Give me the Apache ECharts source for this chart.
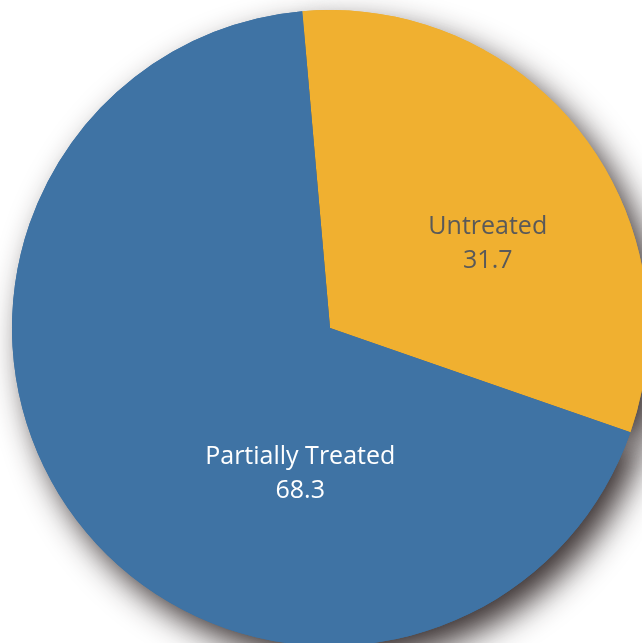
<!DOCTYPE html>
<html>
<head>
<meta charset="utf-8">
<script src="https://cdn.jsdelivr.net/npm/echarts@6/dist/echarts.min.js"></script>
<style>html,body{margin:0;padding:0;background:#fff}#c{width:642px;height:643px}</style>
</head>
<body>
<div id="c"></div>
<script>
const categories = ['Untreated', 'Partially Treated'];
const values = [31.7, 68.3];
const colors = ['#f0b030', '#3f73a4'];
const labelColors = ['#595959', '#ffffff'];
const labelOffsets = [[30, 15], [98, 46]];

const data = categories.map((name, i) => ({
  name, value: values[i],
  itemStyle: { color: colors[i] },
  label: { color: labelColors[i], offset: labelOffsets[i] }
}));

const chart = echarts.init(document.getElementById('c'));
chart.setOption({
  animation: false,
  series: [
    {
      type: 'pie', silent: true, z: 1,
      center: [330, 328], radius: 318, startAngle: 95, clockwise: true,
      label: { show: false }, labelLine: { show: false },
      itemStyle: { shadowBlur: 32, shadowOffsetX: 12, shadowOffsetY: 15, shadowColor: 'rgba(40,30,30,0.92)', borderWidth: 0 },
      data: categories.map((name, i) => ({ name, value: values[i], itemStyle: { color: colors[i] } }))
    },
    {
      type: 'pie', z: 2,
      center: [330, 328], radius: 318, startAngle: 95, clockwise: true,
      itemStyle: { borderWidth: 0 },
      label: {
        show: true, position: 'inside',
        formatter: p => p.name + '\n' + p.value,
        fontFamily: 'Open Sans', fontSize: 25, lineHeight: 34
      },
      labelLine: { show: false },
      data
    }
  ]
});
</script>
</body>
</html>
